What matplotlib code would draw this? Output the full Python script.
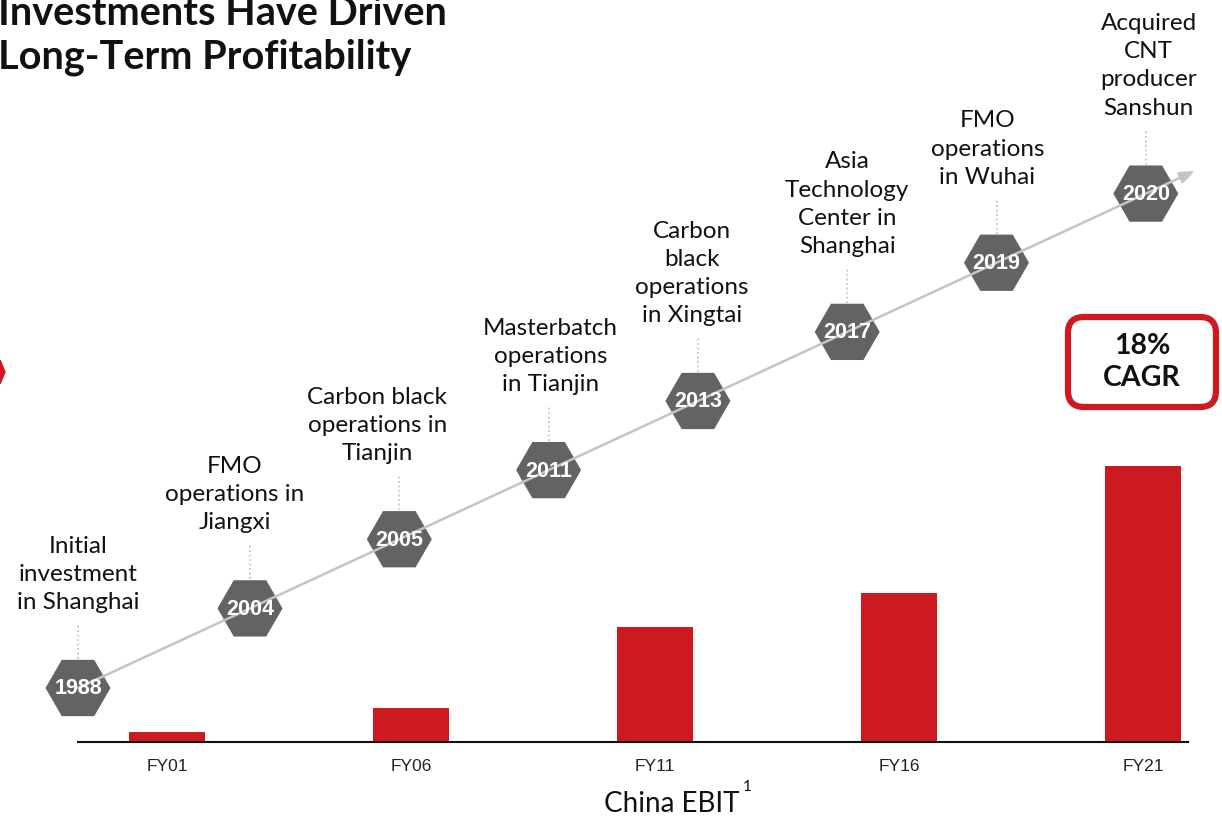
import numpy as np
import matplotlib.pyplot as plt
from matplotlib.patches import RegularPolygon, FancyBboxPatch, Polygon

# China EBIT by fiscal year (indexed, FY01 = 10)
fiscal_years = ['FY01', 'FY06', 'FY11', 'FY16', 'FY21']
ebit = [10, 34, 115, 149, 276]
cagr_text = '18%\nCAGR'

# investment milestones along the timeline arrow
milestone_years = ['1988', '2004', '2005', '2011', '2013', '2017', '2019', '2020']
milestone_text = [
    'Initial\ninvestment\nin Shanghai',
    'FMO\noperations in\nJiangxi',
    'Carbon black\noperations in\nTianjin',
    'Masterbatch\noperations\nin Tianjin',
    'Carbon\nblack\noperations\nin Xingtai',
    'Asia\nTechnology\nCenter in\nShanghai',
    'FMO\noperations\nin Wuhai',
    'Acquired\nCNT\nproducer\nSanshun',
]
label_shift = [0, -15, -22, 2, -6, 0, -9, 3]

RED = '#CD1A21'
HEX = '#636363'
W, H = 1222, 817

fig = plt.figure(figsize=(W / 100, H / 100), dpi=100)

# bar chart, positioned so that the baseline sits low on the slide
base_px, top_px = 742, 100
left_px, right_px = 78, 1188
ax = fig.add_axes([left_px / W, 1 - base_px / H, (right_px - left_px) / W, (base_px - top_px) / H])
x = np.arange(len(fiscal_years))
ax.bar(x, ebit, width=0.311, color=RED, zorder=2)
ax.set_xlim(-0.365, 4.184)
ax.set_ylim(0, base_px - top_px)
ax.set_xticks(x)
ax.set_xticklabels(fiscal_years, fontsize=12.5, family='Liberation Sans', color='#222222')
ax.tick_params(axis='x', length=0, pad=12)
ax.set_yticks([])
for s in ['top', 'right', 'left']:
    ax.spines[s].set_visible(False)
ax.spines['bottom'].set_linewidth(1.5)
ax.spines['bottom'].set_color('#111111')
ax.patch.set_alpha(0)

# overlay in pixel coordinates for the timeline and annotations
ov = fig.add_axes([0, 0, 1, 1], zorder=3)
ov.set_xlim(0, W)
ov.set_ylim(H, 0)
ov.axis('off')

x0, y0 = 78, 688
slope = 0.463
hx = [x0] + [250 + 149.3 * i for i in range(len(milestone_years) - 1)]
hy = [y0 - slope * (v - x0) for v in hx]

tip_x = 1195
ov.annotate('', xy=(tip_x, y0 - slope * (tip_x - x0)), xytext=(x0, y0),
            arrowprops=dict(arrowstyle='-|>,head_length=0.9,head_width=0.35',
                            color='#C4C4C4', lw=1.8, shrinkA=0, shrinkB=0))

for xc, yc, yr, txt, dx in zip(hx, hy, milestone_years, milestone_text, label_shift):
    ov.plot([xc, xc], [yc - 29, yc - 65], color='#C8C8C8', lw=1.3, ls=(0, (1, 1.5)))
    ov.add_patch(RegularPolygon((xc, yc), numVertices=6, radius=32.5,
                                orientation=np.pi / 6, facecolor=HEX, edgecolor='none'))
    ov.text(xc, yc + 1, yr, ha='center', va='center', color='white',
            fontsize=15.5, fontweight='bold', family='Liberation Sans')
    ov.text(xc + dx, yc - 75, txt, ha='center', va='bottom', fontsize=17.5,
            family='Lato', color='#111111', linespacing=1.42)

# CAGR callout
ov.add_patch(FancyBboxPatch((1068, 317), 148, 90, boxstyle='round,pad=0,rounding_size=16',
                            facecolor='white', edgecolor=RED, lw=4.5))
ov.text(1142, 362, cagr_text, ha='center', va='center', fontsize=20.5,
        fontweight='bold', family='Lato', color='#111111', linespacing=1.25)

# title (runs off the slide edge)
ov.text(-2, 25, 'Investments Have Driven', ha='left', va='baseline', fontsize=28.5,
        fontweight='bold', family='Lato', color='#111111')
ov.text(-2, 68, 'Long-Term Profitability', ha='left', va='baseline', fontsize=28.5,
        fontweight='bold', family='Lato', color='#111111')

# red marker cut off at the left edge
ov.add_patch(Polygon([(0, 360), (5, 372), (0, 384)], closed=True, color=RED))

ov.text(672, 804, 'China EBIT', ha='center', va='center', fontsize=20,
        family='Lato', color='#111111')
ov.text(747, 787, '1', ha='center', va='center', fontsize=11,
        family='Lato', color='#111111')

fig.savefig('out.png', dpi=100)
